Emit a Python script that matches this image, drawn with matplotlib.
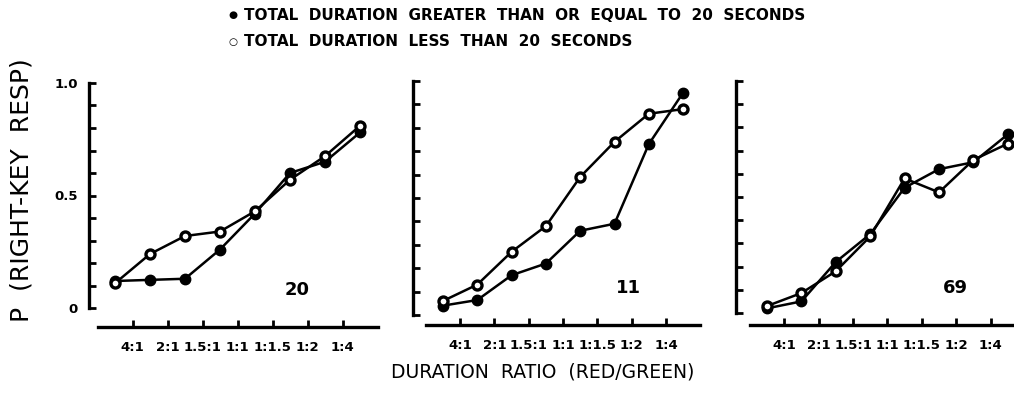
import numpy as np
import matplotlib
matplotlib.use("Agg")
import matplotlib.pyplot as plt

# ratio categories (red/green) and the three subjects
ratio_labels = ["4:1", "2:1", "1.5:1", "1:1", "1:1.5", "1:2", "1:4"]
subjects = ["20", "11", "69"]

# P(right-key response), 8 points per curve
long_20 = [0.12, 0.125, 0.13, 0.26, 0.42, 0.60, 0.65, 0.78]
short_20 = [0.11, 0.24, 0.32, 0.34, 0.43, 0.57, 0.675, 0.81]
long_11 = [0.04, 0.064, 0.17, 0.22, 0.36, 0.39, 0.73, 0.95]
short_11 = [0.06, 0.13, 0.27, 0.38, 0.59, 0.74, 0.86, 0.88]
long_69 = [0.02, 0.05, 0.22, 0.34, 0.54, 0.62, 0.65, 0.77]
short_69 = [0.03, 0.086, 0.18, 0.33, 0.58, 0.52, 0.66, 0.73]

long_runs = [long_20, long_11, long_69]
short_runs = [short_20, short_11, short_69]

W, H = 1014, 393
fig = plt.figure(figsize=(W / 100, H / 100), dpi=100)

# panel placement in pixels: x of first point, px per step, y of zero, px per unit
x0_px = [115, 443, 767]
dx_px = [35, 34.3, 34.4]
y0_px = [308, 315, 313]
dy_px = [225, 234, 232]
yspine_x = [-0.74, -0.87, -0.9]
xaxis_y = [-0.084, -0.043, -0.052]
xlim = (-1.0, 7.6)
ylim = (-0.12, 1.05)
num_pos = [(5.2, 0.08), (5.4, 0.115), (5.47, 0.108)]

xs = np.arange(8)
tick_x = np.arange(7) + 0.5
yt = np.round(np.arange(0, 1.01, 0.1), 1)

for i in range(3):
    left = (x0_px[i] + xlim[0] * dx_px[i]) / W
    width = (xlim[1] - xlim[0]) * dx_px[i] / W
    bottom = (H - (y0_px[i] - ylim[0] * dy_px[i])) / H
    height = (ylim[1] - ylim[0]) * dy_px[i] / H
    ax = fig.add_axes([left, bottom, width, height])
    ax.set_xlim(*xlim)
    ax.set_ylim(*ylim)
    ax.patch.set_visible(False)

    ax.plot(xs, long_runs[i], color="black", lw=1.8, marker="o", ms=7.5,
            mfc="black", mec="black", zorder=3)
    ax.plot(xs, short_runs[i], color="black", lw=1.8, marker="o", ms=6.5,
            mfc="white", mec="black", mew=2.4, zorder=4)

    for s in ["top", "right"]:
        ax.spines[s].set_visible(False)
    ax.spines["left"].set_position(("data", yspine_x[i]))
    ax.spines["left"].set_bounds(0, 1.0)
    ax.spines["bottom"].set_position(("data", xaxis_y[i]))
    ax.spines["bottom"].set_bounds(-0.5, 7.6 if i == 2 else 7.5)
    ax.spines["left"].set_linewidth(2.4)
    ax.spines["bottom"].set_linewidth(2.4)

    ax.set_xticks(tick_x)
    ax.set_xticklabels(ratio_labels, fontsize=9.5, fontweight="bold")
    ax.set_yticks(yt)
    ax.tick_params(axis="both", direction="in", length=5, width=2)
    ax.tick_params(axis="x", pad=10)
    if i == 0:
        ax.set_yticklabels([{0.0: "0", 0.5: "0.5", 1.0: "1.0"}.get(v, "") for v in yt],
                           fontsize=9.5, fontweight="bold")
        ax.tick_params(axis="y", pad=8)
    else:
        ax.set_yticklabels([])

    ax.text(num_pos[i][0], num_pos[i][1], subjects[i], fontsize=13,
            fontweight="bold", ha="center", va="center")

# legend lines across the top
fig.text(233 / W, 1 - 15 / H, "\u25CF", fontsize=7.5, ha="center", va="center")
fig.text(244 / W, 1 - 15 / H, "TOTAL  DURATION  GREATER  THAN  OR  EQUAL  TO  20  SECONDS",
         fontsize=11, fontweight="bold", ha="left", va="center")
fig.text(233 / W, 1 - 42 / H, "\u25CB", fontsize=7.5, ha="center", va="center",
         fontweight="bold")
fig.text(244 / W, 1 - 42 / H, "TOTAL  DURATION  LESS  THAN  20  SECONDS",
         fontsize=11, fontweight="bold", ha="left", va="center")

fig.text(22 / W, 1 - 190 / H, "P  (RIGHT-KEY  RESP)", rotation=90, fontsize=18,
         ha="center", va="center")
fig.text(543 / W, 1 - 372 / H, "DURATION  RATIO  (RED/GREEN)", fontsize=13.5,
         ha="center", va="center")

fig.savefig("out.png", dpi=100)
